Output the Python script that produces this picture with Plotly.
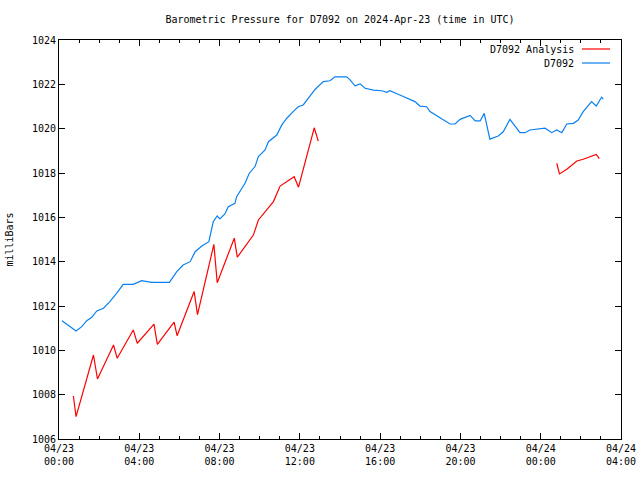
import plotly.graph_objects as go

station_times = [
    "2024-04-23 00:09", "2024-04-23 00:33", "2024-04-23 00:51", "2024-04-23 01:08", "2024-04-23 01:23",
    "2024-04-23 01:38", "2024-04-23 01:53", "2024-04-23 02:13", "2024-04-23 02:32", "2024-04-23 02:52",
    "2024-04-23 03:12", "2024-04-23 03:42", "2024-04-23 04:07", "2024-04-23 04:37", "2024-04-23 05:30",
    "2024-04-23 05:52", "2024-04-23 06:11", "2024-04-23 06:32", "2024-04-23 06:47", "2024-04-23 07:07",
    "2024-04-23 07:28", "2024-04-23 07:41", "2024-04-23 07:53", "2024-04-23 08:01", "2024-04-23 08:16",
    "2024-04-23 08:26", "2024-04-23 08:46", "2024-04-23 08:51", "2024-04-23 09:16", "2024-04-23 09:29",
    "2024-04-23 09:46", "2024-04-23 09:56", "2024-04-23 10:16", "2024-04-23 10:26", "2024-04-23 10:51",
    "2024-04-23 11:06", "2024-04-23 11:21", "2024-04-23 11:40", "2024-04-23 11:55", "2024-04-23 12:10",
    "2024-04-23 12:25", "2024-04-23 12:46", "2024-04-23 13:10", "2024-04-23 13:30", "2024-04-23 13:45",
    "2024-04-23 14:20", "2024-04-23 14:30", "2024-04-23 14:45", "2024-04-23 15:00", "2024-04-23 15:15",
    "2024-04-23 15:40", "2024-04-23 16:05", "2024-04-23 16:20", "2024-04-23 16:29", "2024-04-23 16:59",
    "2024-04-23 17:29", "2024-04-23 17:44", "2024-04-23 17:59", "2024-04-23 18:19", "2024-04-23 18:29",
    "2024-04-23 18:49", "2024-04-23 19:09", "2024-04-23 19:29", "2024-04-23 19:44", "2024-04-23 19:59",
    "2024-04-23 20:29", "2024-04-23 20:44", "2024-04-23 20:59", "2024-04-23 21:11", "2024-04-23 21:28",
    "2024-04-23 21:53", "2024-04-23 22:08", "2024-04-23 22:28", "2024-04-23 22:58", "2024-04-23 23:13",
    "2024-04-23 23:28", "2024-04-24 00:13", "2024-04-24 00:33", "2024-04-24 00:48", "2024-04-24 01:03",
    "2024-04-24 01:18", "2024-04-24 01:38", "2024-04-24 01:52", "2024-04-24 02:07", "2024-04-24 02:32",
    "2024-04-24 02:46", "2024-04-24 03:02", "2024-04-24 03:07",
]
station_mb = [
    1011.33, 1011.07, 1010.87, 1011.07, 1011.34,
    1011.49, 1011.78, 1011.90, 1012.20, 1012.57,
    1012.98, 1012.98, 1013.14, 1013.07, 1013.07,
    1013.55, 1013.85, 1014.00, 1014.45, 1014.71,
    1014.90, 1015.80, 1016.06, 1015.93, 1016.15,
    1016.48, 1016.63, 1016.93, 1017.54, 1017.99,
    1018.29, 1018.74, 1019.04, 1019.41, 1019.71,
    1020.17, 1020.47, 1020.77, 1020.99, 1021.07,
    1021.37, 1021.78, 1022.12, 1022.16, 1022.34,
    1022.34, 1022.20, 1021.93, 1022.02, 1021.82,
    1021.74, 1021.71, 1021.64, 1021.71, 1021.52,
    1021.33, 1021.22, 1021.02, 1020.99, 1020.77,
    1020.57, 1020.39, 1020.21, 1020.21, 1020.42,
    1020.60, 1020.35, 1020.35, 1020.69, 1019.53,
    1019.67, 1019.86, 1020.42, 1019.82, 1019.82,
    1019.94, 1020.02, 1019.82, 1019.94, 1019.82,
    1020.21, 1020.24, 1020.39, 1020.77, 1021.22,
    1021.02, 1021.42, 1021.33,
]

analysis_times = [
    "2024-04-23 00:43", "2024-04-23 00:51", "2024-04-23 01:43", "2024-04-23 01:55", "2024-04-23 02:43",
    "2024-04-23 02:54", "2024-04-23 03:42", "2024-04-23 03:54", "2024-04-23 04:44", "2024-04-23 04:54",
    "2024-04-23 05:44", "2024-04-23 05:53", "2024-04-23 06:44", "2024-04-23 06:54", "2024-04-23 07:43",
    "2024-04-23 07:53", "2024-04-23 08:44", "2024-04-23 08:53", "2024-04-23 09:41", "2024-04-23 09:56",
    "2024-04-23 10:41", "2024-04-23 11:01", "2024-04-23 11:43", "2024-04-23 11:56", "2024-04-23 12:43",
    "2024-04-23 12:55", "2024-04-23 18:00",
    "2024-04-24 00:48", "2024-04-24 00:56", "2024-04-24 01:18", "2024-04-24 01:48", "2024-04-24 02:07",
    "2024-04-24 02:32", "2024-04-24 02:46", "2024-04-24 02:55",
]
analysis_mb = [
    1007.94, 1007.01, 1009.79, 1008.71, 1010.24,
    1009.64, 1010.92, 1010.32, 1011.18, 1010.27,
    1011.27, 1010.66, 1012.65, 1011.61, 1014.78,
    1013.05, 1015.06, 1014.20, 1015.20, 1015.88,
    1016.71, 1017.41, 1017.83, 1017.36, 1020.04,
    1019.44, None,
    1018.44, 1017.96, 1018.17, 1018.54, 1018.62,
    1018.77, 1018.84, 1018.65,
]

tick_vals = ["2024-04-23 00:00", "2024-04-23 04:00", "2024-04-23 08:00", "2024-04-23 12:00",
             "2024-04-23 16:00", "2024-04-23 20:00", "2024-04-24 00:00", "2024-04-24 04:00"]
tick_text = ["04/23<br>00:00", "04/23<br>04:00", "04/23<br>08:00", "04/23<br>12:00",
             "04/23<br>16:00", "04/23<br>20:00", "04/24<br>00:00", "04/24<br>04:00"]

RED = "#ff0000"
BLUE = "#0a80f0"
FONT = "DejaVu Sans Mono"

fig = go.Figure()
fig.add_trace(go.Scatter(x=analysis_times, y=analysis_mb, mode="lines", name="D7092 Analysis",
                         line=dict(color=RED, width=1.2), connectgaps=False, showlegend=False))
fig.add_trace(go.Scatter(x=station_times, y=station_mb, mode="lines", name="D7092",
                         line=dict(color=BLUE, width=1.2), showlegend=False))

L, R, T, B = 59, 621, 40, 439
W, H = R - L, B - T
def px(x):
    return (x - L) / W
def py(y):
    return (B - y) / H

annotations = [
    dict(text="D7092 Analysis", x=px(576), y=py(49), xref="paper", yref="paper",
         xanchor="right", yanchor="middle", showarrow=False, font=dict(family=FONT, size=10, color="black")),
    dict(text="D7092", x=px(576), y=py(63), xref="paper", yref="paper",
         xanchor="right", yanchor="middle", showarrow=False, font=dict(family=FONT, size=10, color="black")),
]
shapes = [
    dict(type="line", xref="paper", yref="paper", x0=px(582), x1=px(610), y0=py(49), y1=py(49),
         line=dict(color=RED, width=1.2)),
    dict(type="line", xref="paper", yref="paper", x0=px(582), x1=px(610), y0=py(63), y1=py(63),
         line=dict(color=BLUE, width=1.2)),
]

fig.update_layout(
    width=640, height=480,
    margin=dict(l=L, r=640 - R, t=T, b=480 - B, autoexpand=False),
    paper_bgcolor="white", plot_bgcolor="white",
    font=dict(family=FONT, size=10, color="black"),
    title=dict(text="Barometric Pressure for D7092 on 2024-Apr-23 (time in UTC)",
               x=(L + R) / 2 / 640, xanchor="center", xref="container",
               y=1 - 19 / 480, yanchor="middle", yref="container",
               font=dict(family=FONT, size=10, color="black"), automargin=False),
    annotations=annotations, shapes=shapes,
    showlegend=False,
)
fig.update_xaxes(
    type="date", range=["2024-04-23 00:00", "2024-04-24 04:00"], automargin=False,
    tickvals=tick_vals, ticktext=tick_text, ticks="inside", ticklen=6, tickcolor="black",
    showgrid=False, zeroline=False, showline=True, linecolor="black", linewidth=1, mirror="ticks",
    minor=dict(dtick=3600000, ticks="inside", ticklen=3, tickcolor="black", showgrid=False),
    tickfont=dict(family=FONT, size=10),
)
fig.update_yaxes(
    range=[1006, 1024], dtick=2, ticks="inside", ticklen=6, tickcolor="black", automargin=False,
    showgrid=False, zeroline=False, showline=True, linecolor="black", linewidth=1, mirror="ticks",
    title=dict(text="milliBars", font=dict(family=FONT, size=10), standoff=16),
    tickfont=dict(family=FONT, size=10),
)

fig.write_html("out.html", config={"displayModeBar": False},
               post_script="document.body.style.margin='0';document.body.style.overflow='hidden';")
